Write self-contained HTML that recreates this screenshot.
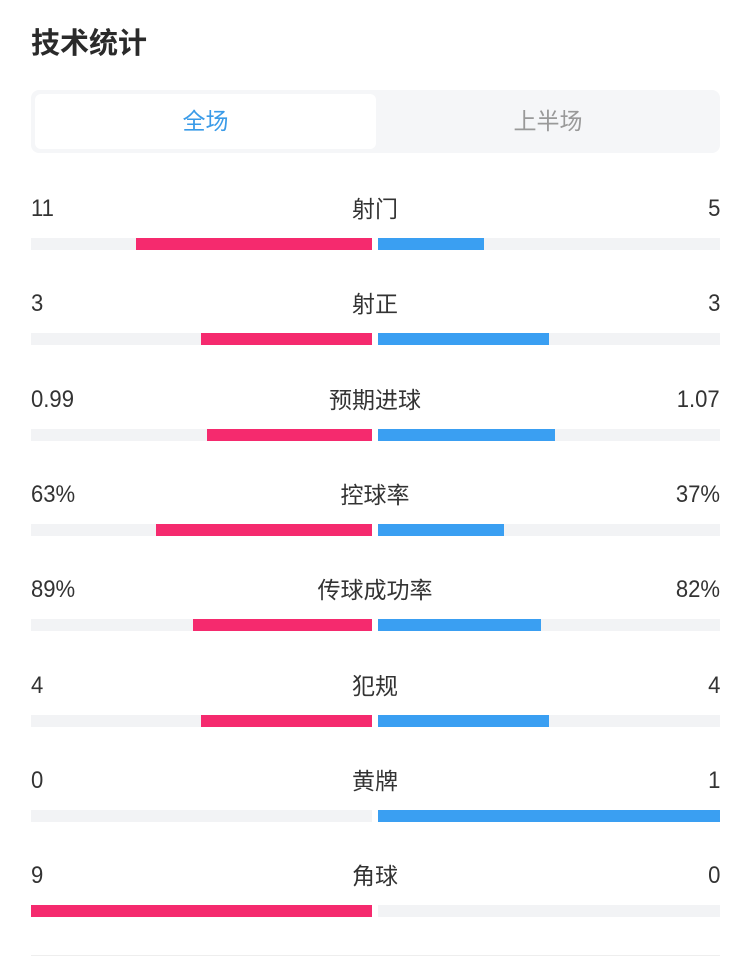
<!DOCTYPE html>
<html><head><meta charset="utf-8"><style>
body{margin:0;width:750px;height:961px;background:#fff;position:relative;overflow:hidden;font-family:"Liberation Sans","Noto Sans CJK SC",sans-serif;color:#333}
.t{position:absolute;left:31px;top:20px;font-size:29px;font-weight:bold;color:#2a2a2a}
.tabs{position:absolute;left:31px;top:90px;width:689px;height:63px;background:#f5f6f8;border-radius:8px}
.act{position:absolute;left:4px;top:4px;width:341px;height:55px;background:#fff;border-radius:6px;color:#3a9be8;font-size:23px;text-align:center;line-height:55px}
.in{position:absolute;left:345px;top:4px;width:344px;height:55px;color:#999;font-size:23px;text-align:center;line-height:55px}
.v{position:absolute;font-size:23px;line-height:28px}
.n{transform:scaleX(0.92);transform-origin:left}
.nr{transform:scaleX(0.92);transform-origin:right}
.tr{position:absolute;height:12px;background:#f2f3f5}
.p{position:absolute;height:12px;background:#f52a6e}
.b{position:absolute;height:12px;background:#3a9ff2}
</style></head><body>
<div class="t">技术统计</div>
<div class="tabs"><div class="act">全场</div><div class="in">上半场</div></div>
<div id="rows"></div>
<div style="position:absolute;left:31px;top:955px;width:689px;height:1px;background:#eee"></div>
<script>
var d=[["11","射门","5",136,484],["3","射正","3",201,549],["0.99","预期进球","1.07",207,555],["63%","控球率","37%",156,504],["89%","传球成功率","82%",193,541],["4","犯规","4",201,549],["0","黄牌","1",372,720],["9","角球","0",31,378]];
var h="";
d.forEach(function(r,i){var y=Math.round(195+i*95.3);var by=y+43;
h+='<div class="v n" style="left:31px;top:'+y+'px;font-size:24px">'+r[0]+'</div>';
h+='<div class="v" style="left:0;width:750px;text-align:center;top:'+y+'px">'+r[1]+'</div>';
h+='<div class="v nr" style="right:30px;top:'+y+'px;font-size:24px">'+r[2]+'</div>';
h+='<div class="tr" style="left:31px;width:341px;top:'+by+'px"></div><div class="tr" style="left:378px;width:342px;top:'+by+'px"></div>';
h+='<div class="p" style="left:'+r[3]+'px;width:'+(372-r[3])+'px;top:'+by+'px"></div>';
h+='<div class="b" style="left:378px;width:'+(r[4]-378)+'px;top:'+by+'px"></div>';});
document.getElementById("rows").innerHTML=h;
</script>
</body></html>
